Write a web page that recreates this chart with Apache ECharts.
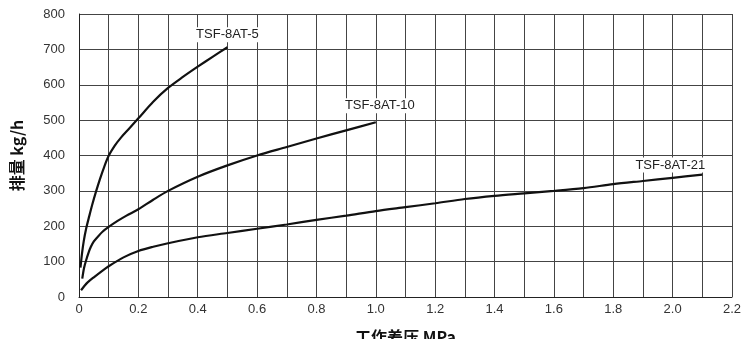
<!DOCTYPE html>
<html><head><meta charset="utf-8">
<script src="https://cdn.jsdelivr.net/npm/echarts@6/dist/echarts.min.js"></script>
<style>html,body{margin:0;padding:0;background:#fff}#c{width:746px;height:339px}</style>
</head><body><div id="c"></div>
<script>
// data
const names = ['TSF-8AT-5', 'TSF-8AT-10', 'TSF-8AT-21'];
const x5 = [0.005, 0.01, 0.016, 0.024, 0.035, 0.045, 0.057, 0.07, 0.085, 0.1, 0.12, 0.14, 0.17, 0.2, 0.25, 0.3, 0.35, 0.4, 0.45, 0.5];
const y5 = [83, 122, 158, 193, 230, 262, 297, 332, 368, 399, 427, 449, 477, 505, 552, 591, 622, 651, 679, 706];
const x10 = [0.011, 0.017, 0.024, 0.032, 0.04, 0.05, 0.063, 0.08, 0.1, 0.13, 0.16, 0.2, 0.25, 0.3, 0.4, 0.5, 0.6, 0.7, 0.8, 0.9, 1.0];
const y10 = [52, 82, 104, 125, 142, 157, 170, 185, 198, 215, 230, 248, 275, 300, 340, 372, 400, 424, 448, 471, 494];
const x21 = [0.007, 0.018, 0.03, 0.052, 0.075, 0.1, 0.15, 0.2, 0.25, 0.3, 0.4, 0.5, 0.6, 0.7, 0.8, 0.9, 1.0, 1.1, 1.2, 1.3, 1.4, 1.5, 1.6, 1.7, 1.8, 1.9, 2.0, 2.1];
const y21 = [19, 31, 42, 57, 72, 87, 112, 130, 142, 152, 169, 181, 193, 205, 218, 230, 243, 254, 265, 277, 286, 293, 300, 308, 319, 328, 337, 346];
const xTicks = ['0', '0.2', '0.4', '0.6', '0.8', '1.0', '1.2', '1.4', '1.6', '1.8', '2.0', '2.2'];
const xName = '工作差压 MPa';
const yName = '排量 kg/h';

const labelOffsets = [[0, 0], [4, -4], [-32, 3]];
function build(xs, ys, i) {
  return xs.map((x, k) => {
    const d = { value: [x, ys[k]] };
    if (k === xs.length - 1) {
      d.label = {
        show: true, formatter: names[i], position: 'top', offset: labelOffsets[i],
        color: '#222', fontSize: 13, fontFamily: 'Liberation Sans, Arial, sans-serif',
        backgroundColor: '#fff', padding: [1, 3]
      };
    }
    return d;
  });
}
const series = [[x5, y5], [x10, y10], [x21, y21]].map((s, i) => ({
  type: 'line', name: names[i], data: build(s[0], s[1], i), smooth: 0.3,
  symbol: 'circle', symbolSize: 0.1, showSymbol: true, itemStyle: { color: 'transparent' },
  lineStyle: { color: '#111', width: 2.2 },
  label: { show: false }, animation: false, z: 3
}));

const chart = echarts.init(document.getElementById('c'));
chart.setOption({
  animation: false,
  grid: { left: 79, right: 14, top: 14, bottom: 42, outerBoundsMode: 'none', containLabel: false },
  xAxis: {
    type: 'value', min: 0, max: 2.2, interval: 0.1,
    name: xName, nameLocation: 'middle', nameGap: 32,
    nameTextStyle: { fontSize: 16, fontWeight: 'bold', color: '#111', fontFamily: 'Noto Sans CJK SC, sans-serif' },
    axisLine: { show: true, lineStyle: { color: '#222', width: 1 } },
    axisTick: { show: false },
    axisLabel: {
      color: '#333', fontSize: 13, margin: 6, fontFamily: 'Liberation Sans, Arial, sans-serif',
      formatter: v => { const i = Math.round(v * 10); return i % 2 === 0 ? xTicks[i / 2] : ''; }
    },
    splitLine: { show: true, lineStyle: { color: '#444', width: 1, type: 'solid' } }
  },
  yAxis: {
    type: 'value', min: 0, max: 800, interval: 100,
    name: yName, nameLocation: 'middle', nameGap: 54, nameRotate: 90,
    nameTextStyle: { fontSize: 16, fontWeight: 'bold', color: '#111', fontFamily: 'Noto Sans CJK SC, sans-serif' },
    axisLine: { show: true, lineStyle: { color: '#222', width: 1 } },
    axisTick: { show: false },
    axisLabel: { color: '#333', fontSize: 13, margin: 14, fontFamily: 'Liberation Sans, Arial, sans-serif' },
    splitLine: { show: true, lineStyle: { color: '#444', width: 1, type: 'solid' } }
  },
  series: series
});
</script></body></html>
